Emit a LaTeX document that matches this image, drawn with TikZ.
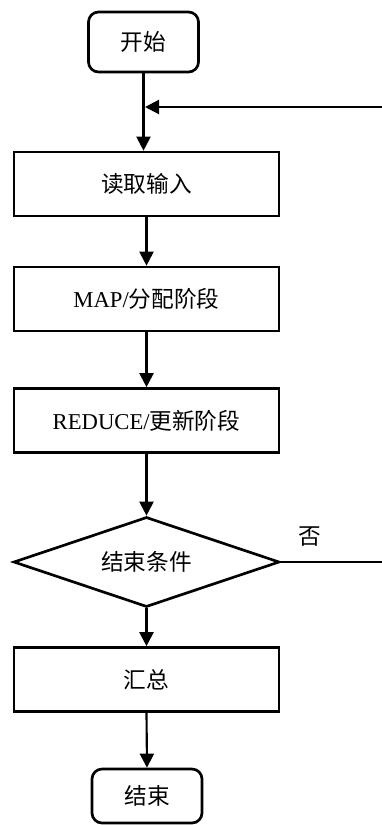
\documentclass[tikz,border=0pt]{standalone}
\usepackage{fontspec}
\setmainfont{Liberation Serif}
\newfontfamily\cjk{Noto Sans CJK SC}
\usetikzlibrary{shapes.geometric,arrows.meta}
\tikzset{
  base/.style={draw=black,line width=2pt,inner sep=0pt,font=\fontsize{17}{20}\selectfont,fill=white},
  procbox/.style={base,rectangle,minimum width=198.75pt,minimum height=48pt},
  termbox/.style={base,rectangle,rounded corners=7.5pt,minimum width=82.5pt},
  decbox/.style={base,diamond,aspect=2.96,minimum width=199.5pt,minimum height=67.5pt},
  arr/.style={line width=1.6pt,-{Triangle[length=10.5pt,width=10.5pt]}},
  lbl/.style={font=\fontsize{17}{20}\selectfont,inner sep=0pt}
}
\begin{document}
\begin{tikzpicture}[x=0.75pt,y=-0.75pt]
\useasboundingbox (0,0) rectangle (382,825);
\clip (0,0) rectangle (382,825);
\node[termbox,minimum height=45pt] (start) at (143.5,42) {\cjk 开始};
\node[procbox] (read) at (146.5,184) {\cjk 读取输入};
\node[procbox] (map) at (146.5,299) {MAP/{\cjk 分配阶段}};
\node[procbox] (red) at (146.5,420.5) {REDUCE/{\cjk 更新阶段}};
\node[decbox] (dec) at (146.5,562) {\cjk 结束条件};
\node[procbox] (sum) at (146.5,679.5) {\cjk 汇总};
\node[termbox,minimum height=40.5pt] (end) at (147,796) {\cjk 结束};
\node[lbl] (no) at (310,537) {\cjk 否};
\coordinate (R) at (386,562);
\coordinate (J) at (145,107);
\draw[arr] (start.south) -- (start.south |- read.north);
\draw[arr] (read.south) -- (map.north);
\draw[arr] (map.south) -- (red.north);
\draw[arr] (red.south) -- (dec.north);
\draw[arr] (dec.south) -- (sum.north);
\draw[arr] (sum.south) -- (end.north);
\draw[arr] (dec.east) -- (R) |- (J);
\end{tikzpicture}
\end{document}
